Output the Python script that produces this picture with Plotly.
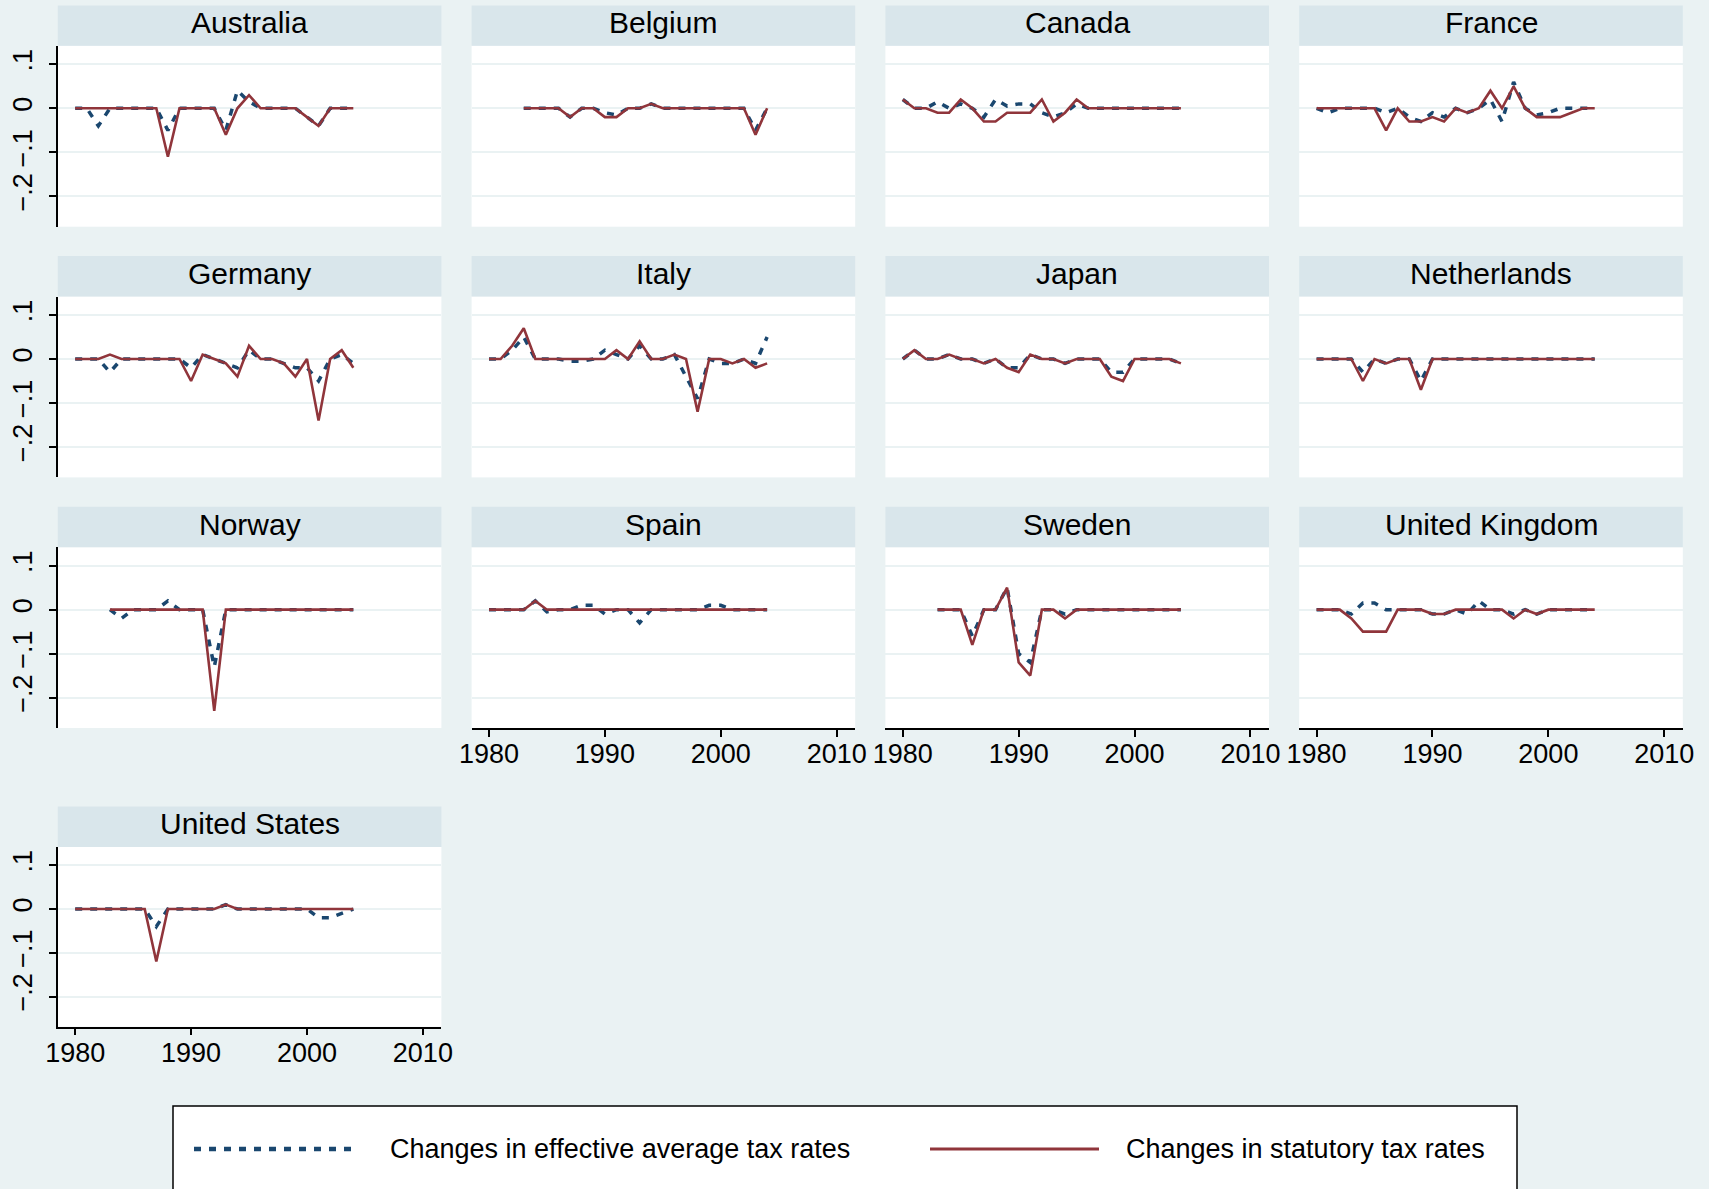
import plotly.graph_objects as go

# ---------------------------------------------------------------- data
YEARS = list(range(1980, 2005))

COUNTRIES = ["Australia", "Belgium", "Canada", "France",
             "Germany", "Italy", "Japan", "Netherlands",
             "Norway", "Spain", "Sweden", "United Kingdom",
             "United States"]

N = None

# changes in effective average tax rates (EATR), 1980-2004
AUS_EATR = [0, 0, -0.04, 0, 0, 0, 0, 0, -0.05, 0, 0, 0, 0, -0.05, 0.04, 0.015, 0, 0, 0, 0, -0.02, -0.04, 0, 0, 0]
BEL_EATR = [N, N, N, 0, 0, 0, 0, -0.02, 0, 0, -0.01, -0.015, 0, 0, 0.01, 0, 0, 0, 0, 0, 0, 0, 0, -0.05, 0]
CAN_EATR = [0.02, 0, 0, 0.015, 0, 0.01, 0, -0.02, 0.02, 0.005, 0.01, 0.01, -0.01, -0.02, -0.01, 0.01, 0, 0, 0, 0, 0, 0, 0, 0, 0]
FRA_EATR = [0, -0.01, 0, 0, 0, 0, -0.01, 0, -0.02, -0.03, -0.01, -0.02, 0, -0.01, 0, 0.02, -0.03, 0.06, 0, -0.015, -0.01, 0, 0, 0, 0]
DEU_EATR = [0, 0, 0, -0.03, 0, 0, 0, 0, 0, 0, -0.02, 0.01, 0, -0.01, -0.02, 0.02, 0, 0, -0.01, -0.02, -0.02, -0.05, 0, 0.01, -0.01]
ITA_EATR = [0, 0, 0.02, 0.05, 0, 0, 0, -0.005, -0.005, 0, 0.02, 0.01, 0, 0.03, 0, 0, 0.01, -0.04, -0.09, 0, -0.01, -0.01, 0, -0.01, 0.05]
JPN_EATR = [0, 0.02, 0, 0, 0.01, 0, 0, -0.01, 0, -0.02, -0.02, 0.01, 0, 0, -0.01, 0, 0, 0, -0.03, -0.03, 0, 0, 0, 0, -0.01]
NLD_EATR = [0, 0, 0, 0, -0.03, 0, -0.01, 0, 0, -0.05, 0, 0, 0, 0, 0, 0, 0, 0, 0, 0, 0, 0, 0, 0, 0]
NOR_EATR = [N, N, N, 0, -0.02, 0, 0, 0, 0.02, 0, 0, 0, -0.13, 0, 0, 0, 0, 0, 0, 0, 0, 0, 0, 0, 0]
ESP_EATR = [0, 0, 0, 0, 0.02, -0.005, 0, 0, 0.01, 0.01, -0.01, 0, 0, -0.03, 0, 0, 0, 0, 0, 0.01, 0.01, 0, 0, 0, 0]
SWE_EATR = [N, N, N, 0, 0, 0, -0.06, 0, 0, 0.05, -0.10, -0.12, 0, 0, -0.01, 0, 0, 0, 0, 0, 0, 0, 0, 0, 0]
GBR_EATR = [0, 0, 0, -0.01, 0.015, 0.015, 0, 0, 0, 0, -0.01, -0.01, 0, -0.01, 0.02, 0, 0, -0.01, 0, -0.01, 0, 0, 0, 0, 0]
USA_EATR = [0, 0, 0, 0, 0, 0, 0, -0.04, 0, 0, 0, 0, 0, 0.01, 0, 0, 0, 0, 0, 0, 0, -0.02, -0.02, -0.01, 0]

# changes in statutory tax rates (STR), 1980-2004
AUS_STR = [0, 0, 0, 0, 0, 0, 0, 0, -0.11, 0, 0, 0, 0, -0.06, 0, 0.03, 0, 0, 0, 0, -0.02, -0.04, 0, 0, 0]
BEL_STR = [N, N, N, 0, 0, 0, 0, -0.02, 0, 0, -0.02, -0.02, 0, 0, 0.01, 0, 0, 0, 0, 0, 0, 0, 0, -0.06, 0]
CAN_STR = [0.02, 0, 0, -0.01, -0.01, 0.02, 0, -0.03, -0.03, -0.01, -0.01, -0.01, 0.02, -0.03, -0.01, 0.02, 0, 0, 0, 0, 0, 0, 0, 0, 0]
FRA_STR = [0, 0, 0, 0, 0, 0, -0.05, 0, -0.03, -0.03, -0.02, -0.03, 0, -0.01, 0, 0.04, 0, 0.05, 0, -0.02, -0.02, -0.02, -0.01, 0, 0]
DEU_STR = [0, 0, 0, 0.01, 0, 0, 0, 0, 0, 0, -0.05, 0.01, 0, -0.01, -0.04, 0.03, 0, 0, -0.01, -0.04, 0, -0.14, 0, 0.02, -0.02]
ITA_STR = [0, 0, 0.03, 0.07, 0, 0, 0, 0, 0, 0, 0, 0.02, 0, 0.04, 0, 0, 0.01, 0, -0.12, 0, 0, -0.01, 0, -0.02, -0.01]
JPN_STR = [0, 0.02, 0, 0, 0.01, 0, 0, -0.01, 0, -0.02, -0.03, 0.01, 0, 0, -0.01, 0, 0, 0, -0.04, -0.05, 0, 0, 0, 0, -0.01]
NLD_STR = [0, 0, 0, 0, -0.05, 0, -0.01, 0, 0, -0.07, 0, 0, 0, 0, 0, 0, 0, 0, 0, 0, 0, 0, 0, 0, 0]
NOR_STR = [N, N, N, 0, 0, 0, 0, 0, 0, 0, 0, 0, -0.23, 0, 0, 0, 0, 0, 0, 0, 0, 0, 0, 0, 0]
ESP_STR = [0, 0, 0, 0, 0.02, 0, 0, 0, 0, 0, 0, 0, 0, 0, 0, 0, 0, 0, 0, 0, 0, 0, 0, 0, 0]
SWE_STR = [N, N, N, 0, 0, 0, -0.08, 0, 0, 0.05, -0.12, -0.15, 0, 0, -0.02, 0, 0, 0, 0, 0, 0, 0, 0, 0, 0]
GBR_STR = [0, 0, 0, -0.02, -0.05, -0.05, -0.05, 0, 0, 0, -0.01, -0.01, 0, 0, 0, 0, 0, -0.02, 0, -0.01, 0, 0, 0, 0, 0]
USA_STR = [0, 0, 0, 0, 0, 0, 0, -0.12, 0, 0, 0, 0, 0, 0.01, 0, 0, 0, 0, 0, 0, 0, 0, 0, 0, 0]

EATR_SERIES = [AUS_EATR, BEL_EATR, CAN_EATR, FRA_EATR, DEU_EATR, ITA_EATR, JPN_EATR,
               NLD_EATR, NOR_EATR, ESP_EATR, SWE_EATR, GBR_EATR, USA_EATR]
STR_SERIES = [AUS_STR, BEL_STR, CAN_STR, FRA_STR, DEU_STR, ITA_STR, JPN_STR,
              NLD_STR, NOR_STR, ESP_STR, SWE_STR, GBR_STR, USA_STR]

X_TICKS = [1980, 1990, 2000, 2010]
X_TICK_TEXT = ["1980", "1990", "2000", "2010"]
Y_TICKS = [-0.2, -0.1, 0, 0.1]
Y_TICK_TEXT = ["\u2212.2", "\u2212.1", "0", ".1"]

LEGEND_EATR = "Changes in effective average tax rates"
LEGEND_STR = "Changes in statutory tax rates"

# ---------------------------------------------------------------- style
W, H = 1709, 1189
BG = "#EAF2F3"
STRIP = "#D9E6EB"
GRID = "#EAF2F3"
NAVY = "#1A476F"
MAROON = "#90353B"
FONT = "Liberation Sans, Arial, Helvetica, sans-serif"
DOT = "7px,8px"

COL_X0 = [57.8, 471.6, 885.4, 1299.2]
PANEL_W = 383.6
# (strip top, plot top, plot bottom) in pixels for each row of panels
ROWS = [(5.4, 45.8, 226.7), (256.1, 296.5, 477.4),
        (506.8, 547.2, 728.0), (806.5, 846.9, 1026.7)]
TITLE_LIFT = 3
X_RANGE = [1978.5, 2011.6]
Y_RANGE = [-0.269, 0.142]

BOTTOM_PANELS = {9, 10, 11, 12}
LEFT_PANELS = {0, 4, 8, 12}


def px_x(x):
    return x / W


def px_y(y):
    return 1 - y / H


fig = go.Figure()
shapes = []
annotations = []
layout_axes = {}

for i, name in enumerate(COUNTRIES):
    r, c = divmod(i, 4)
    strip_top, plot_top, plot_bot = ROWS[r]
    x0 = COL_X0[c]
    x1 = x0 + PANEL_W
    suffix = "" if i == 0 else str(i + 1)
    xa, ya = "x" + suffix, "y" + suffix

    fig.add_trace(go.Scatter(
        x=YEARS, y=EATR_SERIES[i], xaxis=xa, yaxis=ya, mode="lines",
        line=dict(color=NAVY, width=3.5, dash=DOT),
        connectgaps=False, showlegend=False, hoverinfo="skip"))
    fig.add_trace(go.Scatter(
        x=YEARS, y=STR_SERIES[i], xaxis=xa, yaxis=ya, mode="lines",
        line=dict(color=MAROON, width=2.6),
        connectgaps=False, showlegend=False, hoverinfo="skip"))

    bottom = i in BOTTOM_PANELS
    left = i in LEFT_PANELS
    layout_axes["xaxis" + suffix] = dict(
        domain=[px_x(x0), px_x(x1)], anchor=ya, range=X_RANGE,
        automargin=False, showgrid=False, zeroline=False,
        showline=bottom, linecolor="black", linewidth=1.5,
        ticks="outside" if bottom else "", ticklen=7, tickwidth=1.5, tickcolor="black",
        tickvals=X_TICKS, ticktext=X_TICK_TEXT, showticklabels=bottom,
        ticklabelstandoff=-6,
        tickfont=dict(family=FONT, size=27, color="black"),
        fixedrange=True)
    layout_axes["yaxis" + suffix] = dict(
        domain=[px_y(plot_bot), px_y(plot_top)], anchor=xa, range=Y_RANGE,
        automargin=False, showgrid=True, gridcolor=GRID, gridwidth=2, zeroline=False,
        showline=left, linecolor="black", linewidth=1.5,
        ticks="outside" if left else "", ticklen=7, tickwidth=1.5, tickcolor="black",
        tickvals=Y_TICKS, ticktext=Y_TICK_TEXT, showticklabels=left,
        tickangle=-90, ticklabelstandoff=6,
        tickfont=dict(family=FONT, size=27, color="black"),
        fixedrange=True)

    # panel strip with the country name
    shapes.append(dict(type="rect", xref="paper", yref="paper",
                       x0=px_x(x0), x1=px_x(x1), y0=px_y(plot_top), y1=px_y(strip_top),
                       fillcolor=STRIP, line=dict(width=0), layer="below"))
    annotations.append(dict(text=name, xref="paper", yref="paper",
                            x=px_x((x0 + x1) / 2),
                            y=px_y((strip_top + plot_top) / 2 - TITLE_LIFT),
                            xanchor="center", yanchor="middle", showarrow=False,
                            font=dict(family=FONT, size=30, color="black")))

# legend box drawn below the panels
LEG_TOP = 1106
LEG_MID = 1149
shapes.append(dict(type="rect", xref="paper", yref="paper",
                   x0=px_x(173), x1=px_x(1517), y0=px_y(1200), y1=px_y(LEG_TOP),
                   fillcolor="white", line=dict(color="black", width=1.5)))
shapes.append(dict(type="line", xref="paper", yref="paper",
                   x0=px_x(194), x1=px_x(357), y0=px_y(LEG_MID), y1=px_y(LEG_MID),
                   line=dict(color=NAVY, width=4.5, dash=DOT)))
shapes.append(dict(type="line", xref="paper", yref="paper",
                   x0=px_x(930), x1=px_x(1099), y0=px_y(LEG_MID), y1=px_y(LEG_MID),
                   line=dict(color=MAROON, width=3)))
annotations.append(dict(text=LEGEND_EATR, xref="paper", yref="paper",
                        x=px_x(388), y=px_y(LEG_MID), xanchor="left", yanchor="middle",
                        showarrow=False, font=dict(family=FONT, size=27, color="black")))
annotations.append(dict(text=LEGEND_STR, xref="paper", yref="paper",
                        x=px_x(1124), y=px_y(LEG_MID), xanchor="left", yanchor="middle",
                        showarrow=False, font=dict(family=FONT, size=27, color="black")))

fig.update_layout(
    width=W, height=H, autosize=False,
    margin=dict(l=0, r=0, t=0, b=0, pad=0),
    paper_bgcolor=BG, plot_bgcolor="white",
    showlegend=False, shapes=shapes, annotations=annotations,
    font=dict(family=FONT, color="black"),
    **layout_axes)

fig.write_html("out.html", config={"displayModeBar": False})
